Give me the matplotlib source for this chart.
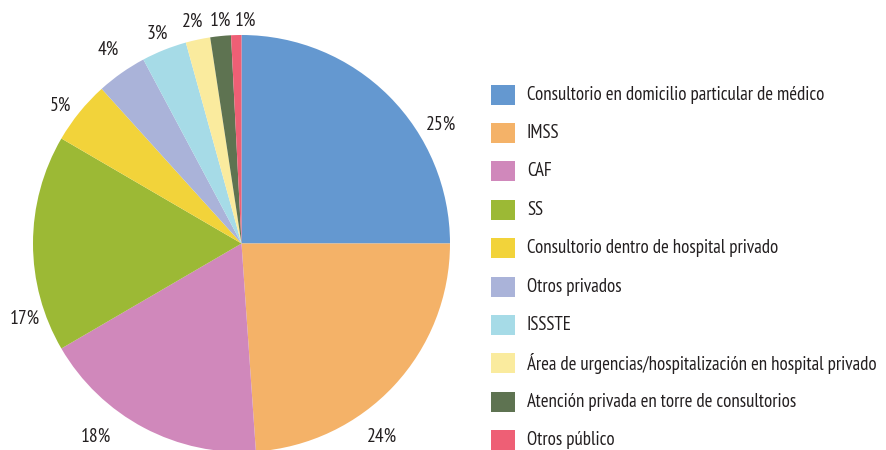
#pie chart of where patients were attended, with legend on the right
import matplotlib.pyplot as plt
from matplotlib.patches import Rectangle

plt.rcParams['font.family'] = ['PT Sans Narrow', 'DejaVu Sans']

#data
categories = ["Consultorio en domicilio particular de médico", "IMSS", "CAF", "SS",
              "Consultorio dentro de hospital privado", "Otros privados", "ISSSTE",
              "Área de urgencias/hospitalización en hospital privado",
              "Atención privada en torre de consultorios", "Otros público"]
shares = [25.0, 23.9, 17.7, 16.8, 4.9, 3.9, 3.5, 1.9, 1.6, 0.8]
pct_labels = ["25%", "24%", "18%", "17%", "5%", "4%", "3%", "2%", "1%", "1%"]
colors = ["#6498D0", "#F4B268", "#D088BB", "#9CB935", "#F2D33A",
          "#AAB3D9", "#A6DBE7", "#FAEB9E", "#5E7351", "#EE5F75"]

#label spots in pie units (radius = 1)
label_xy = [(0.957, 0.568), (0.674, -0.928), (-0.698, -0.928), (-1.038, -0.362),
            (-0.870, 0.659), (-0.640, 0.928), (-0.405, 1.005), (-0.233, 1.062),
            (-0.103, 1.067), (0.017, 1.067)]

W, H = 887, 450
fig = plt.figure(figsize=(W / 100, H / 100), dpi=100)

#pie axes: center (241.5, 243.5) px, radius 208.5 px
cx, cy, r = 241.5, 243.5, 208.5
ax = fig.add_axes([(cx - r) / W, (H - cy - r) / H, 2 * r / W, 2 * r / H])
ax.pie(shares, colors=colors, startangle=90, counterclock=False, radius=1,
       wedgeprops=dict(linewidth=0))
ax.set_xlim(-1, 1)
ax.set_ylim(-1, 1)
ax.set_aspect("equal")
ax.axis("off")

for (x, y), txt in zip(label_xy, pct_labels):
    ax.text(x, y, txt, ha="center", va="center", fontsize=14, color="#231F20",
            clip_on=False)

#legend drawn by hand so the rows line up with the reference
row0, step = 94.5, 38.4
for i, (lab, col) in enumerate(zip(categories, colors)):
    yc = row0 + i * step
    fig.add_artist(Rectangle((491 / W, (H - yc - 10) / H), 24 / W, 20 / H,
                             facecolor=col, edgecolor="none",
                             transform=fig.transFigure))
    fig.text(527 / W, (H - yc) / H, lab, ha="left", va="center",
             fontsize=13.6, color="#231F20")

plt.savefig("out.png", dpi=100)
